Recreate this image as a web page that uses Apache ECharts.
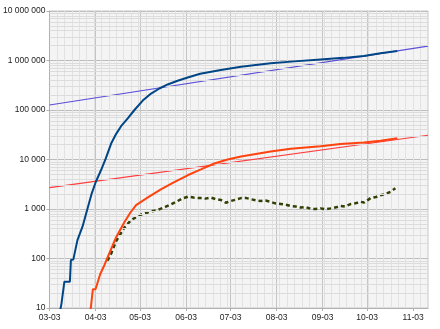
<!DOCTYPE html>
<html>
<head>
<meta charset="utf-8">
<script src="https://cdn.jsdelivr.net/npm/echarts@6/dist/echarts.min.js"></script>
<style>html,body{margin:0;padding:0;background:#fff}#c{width:440px;height:329px}</style>
</head>
<body>
<div id="c"></div>
<script>
// x = days since 03-03
const xTickDays = [0, 31, 61, 92, 122, 153, 184, 214, 245];
const xTickLabels = ['03-03', '04-03', '05-03', '06-03', '07-03', '08-03', '09-03', '10-03', '11-03'];
const yTickValues = [10, 100, 1000, 10000, 100000, 1000000, 10000000];

const casesTotal = [
  [6, 6], [8, 12], [10, 34], [13.7, 34], [14.4, 93], [16, 95], [18.8, 235], [22.2, 440],
  [25.6, 1020], [28.5, 2100], [31.2, 3550], [34.8, 6200], [37.9, 10500], [41.5, 21000],
  [44.9, 33000], [48.2, 47000], [52.7, 68000], [57.2, 100000], [62.8, 155000], [68.4, 215000],
  [74, 272000], [79.6, 328000], [86.3, 390000], [93.1, 455000], [101.5, 540000], [115.4, 640000],
  [129, 750000], [149, 880000], [165, 960000], [182.6, 1050000], [198, 1130000], [211.8, 1230000],
  [223, 1400000], [234.3, 1550000]
];
const deathsTotal = [
  [27, 7], [27.8, 10], [29.2, 24], [31, 24], [34.1, 48], [35.2, 48], [37, 74], [38.8, 100],
  [44.9, 270], [50.4, 540], [54.5, 850], [58.3, 1200], [66, 1700], [75, 2500], [84, 3500],
  [93, 4800], [102, 6300], [111, 8300], [120, 10000], [129, 11500], [149, 14500],
  [162.5, 16500], [182.6, 18500], [196, 20500], [211.8, 22000], [223, 24000], [234.3, 26900]
];
const dailyAvg = [
  [39, 90], [41.5, 125], [44.9, 225], [50.4, 420], [55, 600], [59.4, 710], [63, 800], [68.4, 890],
  [73, 960], [78, 1100], [82, 1250], [86.3, 1450], [90, 1650], [93.5, 1780], [97, 1700],
  [102, 1660], [105, 1620], [108.7, 1700], [112, 1580], [115.5, 1520], [118.8, 1340], [122, 1450],
  [126.7, 1580], [129, 1660], [132, 1680], [135.6, 1580], [139, 1500], [142.3, 1450], [145.5, 1480],
  [149, 1400], [152, 1300], [155.8, 1260], [159, 1220], [162.5, 1150], [166, 1120], [169.2, 1070],
  [172.5, 1100], [176, 1010], [179, 1000], [182.6, 1030], [186, 990], [189.4, 1030], [193, 1080],
  [196, 1150], [199, 1120], [202.8, 1260], [206, 1300], [209.5, 1400], [212, 1350], [216.3, 1660],
  [220, 1750], [223, 1900], [226, 2000], [229.8, 2230], [233, 2620]
];
const casesTrend = [[0, 126000], [255, 1950000]];
const deathsTrend = [[0, 2700], [255, 31000]];

const minorGrid = [];
for (let d = 10; d < 10000000; d *= 10) {
  for (let k = 2; k <= 9; k++) minorGrid.push({ yAxis: k * d });
}

const fmt = v => String(Math.round(v)).replace(/\B(?=(\d{3})+(?!\d))/g, ' ');
const font = { fontFamily: 'Liberation Sans', fontSize: 8.5, color: '#222' };

const chart = echarts.init(document.getElementById('c'), null, { renderer: 'canvas' });
chart.setOption({
  animation: false,
  backgroundColor: '#ffffff',
  grid: { left: 48, right: 12, top: 11, bottom: 21, show: true, backgroundColor: '#f4f4f4', borderColor: '#c8c8c8', borderWidth: 1 },
  xAxis: [{
    type: 'value', min: 0, max: 255,
    axisLine: { show: true, lineStyle: { color: '#b0b0b0' } },
    axisTick: { show: true, length: 3, customValues: xTickDays, lineStyle: { color: '#b0b0b0' } },
    axisLabel: { ...font, margin: 5, customValues: xTickDays,
      formatter: v => { const i = xTickDays.indexOf(Math.round(v)); return i >= 0 ? xTickLabels[i] : ''; } },
    splitLine: { show: true, lineStyle: { color: '#c4c4c4', width: 1 } }
  }, {
    type: 'value', min: 0, max: 255, interval: 5, position: 'top',
    axisLine: { show: false }, axisTick: { show: false }, axisLabel: { show: false },
    splitLine: { show: true, lineStyle: { color: '#e2e2e2', width: 1 } }
  }],
  yAxis: {
    type: 'log', logBase: 10, min: 10, max: 10000000,
    axisLine: { show: true, lineStyle: { color: '#b0b0b0' } },
    axisTick: { show: true, length: 3, lineStyle: { color: '#b0b0b0' } },
    axisLabel: { ...font, margin: 4, formatter: v => fmt(v) },
    splitLine: { show: true, lineStyle: { color: '#bdbdbd', width: 1 } }
  },
  series: [
    { type: 'line', data: [], z: 1, silent: true,
      markLine: { silent: true, symbol: 'none', label: { show: false },
        lineStyle: { color: '#dcdcdc', width: 1, type: 'solid' }, data: minorGrid, animation: false } },
    { name: 'cases trend', type: 'line', data: casesTrend, showSymbol: false, z: 3,
      lineStyle: { color: '#5b4fd8', width: 1.1 } },
    { name: 'deaths trend', type: 'line', data: deathsTrend, showSymbol: false, z: 3,
      lineStyle: { color: '#ff3b3b', width: 1.1 } },
    { name: 'daily', type: 'line', data: dailyAvg, showSymbol: false, z: 4,
      lineStyle: { color: '#314004', width: 2.5, type: [4, 3] } },
    { name: 'deaths', type: 'line', data: deathsTotal, showSymbol: false, z: 5,
      lineStyle: { color: '#ff420e', width: 2 } },
    { name: 'cases', type: 'line', data: casesTotal, showSymbol: false, z: 6,
      lineStyle: { color: '#004586', width: 2 } }
  ]
});
</script>
</body>
</html>
